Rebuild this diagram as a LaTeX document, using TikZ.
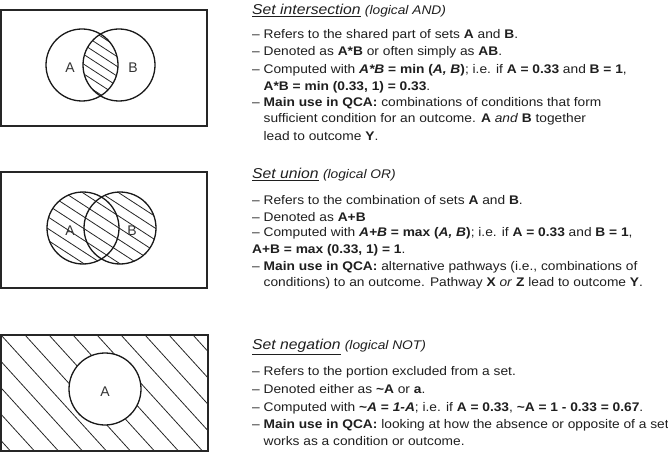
\documentclass[tikz,border=0pt]{standalone}
\usepackage{fontspec}
\setmainfont[FakeStretch=1.1]{Liberation Sans}
\newfontfamily\lblfont{Liberation Sans}
\newcommand{\dsh}{–\ }
\newcommand{\hng}{\phantom{–\ }}
\begin{document}
\begin{tikzpicture}[x=1pt,y=-1pt,
  txt/.style={anchor=west, inner sep=0pt, text=black!88, font=\fontsize{12.5}{15}\selectfont},
  ttl/.style={anchor=west, inner sep=0pt, text=black!88, font=\fontsize{14.3}{16}\selectfont},
  frame/.style={draw=black!85, line width=1.5pt},
  ring/.style={draw=black!90, line width=1.3pt},
  hatch/.style={draw=black!85, line width=0.8pt},
  lbl/.style={inner sep=0pt, text=black!80, font=\lblfont\fontsize{14}{16}\selectfont}]
\useasboundingbox (0,0) rectangle (668,470);

% ---------- panel 1: intersection ----------
\draw[frame] (1,10) rectangle (207,126);
\begin{scope}
  \clip (82,65) circle (36);
  \clip (119,65) circle (36);
  \foreach \k in {-10,...,10}
    \draw[hatch] (100+\k*15-100,65-65) -- ++(200,130);
\end{scope}
\draw[ring] (82,65) circle (36);
\draw[ring] (119,65) circle (36);
\node[lbl] (a1) at (70,68) {A};
\node[lbl] (b1) at (133,68) {B};

\node[ttl] (t1) at (252,11) {\underline{\textit{Set intersection}} {\fontsize{12.5}{15}\selectfont\textit{(logical AND)}}};
\node[txt] (l11) at (252,35) {\dsh Refers to the shared part of sets \textbf{A} and \textbf{B}.};
\node[txt] (l12) at (252,52) {\dsh Denoted as \textbf{A*B} or often simply as \textbf{AB}.};
\node[txt] (l13) at (252,70) {\dsh Computed with \textbf{\textit{A*B}} \textbf{= min (\textit{A, B})}; i.e. if \textbf{A = 0.33} and \textbf{B = 1},};
\node[txt] (l14) at (252,87) {\hng\textbf{A*B = min (0.33, 1) = 0.33}.};
\node[txt] (l15) at (252,103) {\dsh\textbf{Main use in QCA:} combinations of conditions that form};
\node[txt] (l16) at (252,119) {\hng sufficient condition for an outcome. \textbf{A} \textit{and} \textbf{B} together};
\node[txt] (l17) at (252,136) {\hng lead to outcome \textbf{Y}.};

% ---------- panel 2: union ----------
\draw[frame] (1,172) rectangle (207,288);
\begin{scope}
  \clip (83,228) circle (36) (120,228) circle (36);
  \foreach \k in {-10,...,10}
    \draw[hatch] (101+\k*18-100,228-65) -- ++(200,130);
\end{scope}
\draw[ring] (83,228) circle (36);
\draw[ring] (120,228) circle (36);
\node[lbl] (a2) at (70,231) {A};
\node[lbl] (b2) at (132,231) {B};

\node[ttl] (t2) at (252,175) {\underline{\textit{Set union}} {\fontsize{12.5}{15}\selectfont\textit{(logical OR)}}};
\node[txt] (l21) at (252,200) {\dsh Refers to the combination of sets \textbf{A} and \textbf{B}.};
\node[txt] (l22) at (252,217) {\dsh Denoted as \textbf{A+B}};
\node[txt] (l23) at (252,233) {\dsh Computed with \textbf{\textit{A+B}} \textbf{= max (\textit{A, B})}; i.e. if \textbf{A = 0.33} and \textbf{B = 1},};
\node[txt] (l24) at (252,250) {\textbf{A+B = max (0.33, 1) = 1}.};
\node[txt] (l25) at (252,267) {\dsh\textbf{Main use in QCA:} alternative pathways (i.e., combinations of};
\node[txt] (l26) at (252,283) {\hng conditions) to an outcome. Pathway \textbf{X} \textit{or} \textbf{Z} lead to outcome \textbf{Y}.};

% ---------- panel 3: negation ----------
\begin{scope}
  \clip (1,335) rectangle (208,451);
  \foreach \k in {-6,...,9}
    \draw[hatch] (\k*24+1,335) -- ++(160,176);
\end{scope}
\fill[white] (105,389) circle (36);
\draw[frame] (1,335) rectangle (208,451);
\draw[ring] (105,389) circle (36);
\node[lbl] (a3) at (105,392) {A};

\node[ttl] (t3) at (252,347) {\underline{\textit{Set negation}} {\fontsize{12.5}{15}\selectfont\textit{(logical NOT)}}};
\node[txt] (l31) at (252,372) {\dsh Refers to the portion excluded from a set.};
\node[txt] (l32) at (252,389) {\dsh Denoted either as \textbf{\textasciitilde A} or \textbf{a}.};
\node[txt] (l33) at (252,408) {\dsh Computed with \textbf{\textasciitilde\textit{A} = \textit{1-A}}; i.e. if \textbf{A = 0.33}, \textbf{\textasciitilde A = 1 - 0.33 = 0.67}.};
\node[txt] (l34) at (252,425) {\dsh\textbf{Main use in QCA:} looking at how the absence or opposite of a set};
\node[txt] (l35) at (252,441) {\hng works as a condition or outcome.};
\end{tikzpicture}
\end{document}
